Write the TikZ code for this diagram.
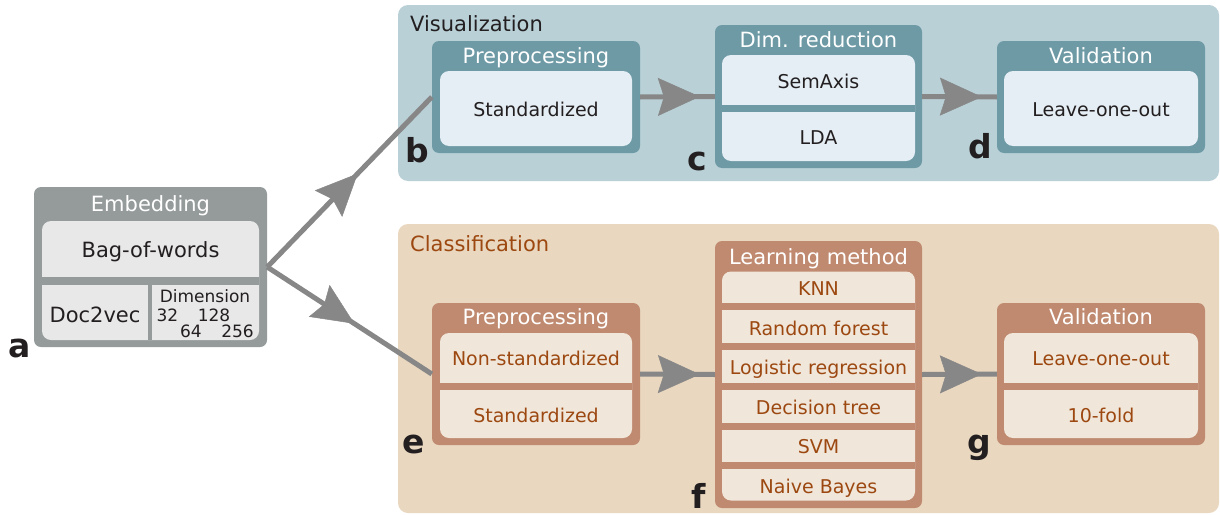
\documentclass[tikz,border=0pt]{standalone}
\usepackage{fontspec}
\setmainfont{DejaVu Sans}
\usetikzlibrary{arrows.meta, decorations.markings}

\definecolor{embgray}{RGB}{149,155,155}
\definecolor{emblight}{RGB}{232,232,232}
\definecolor{vispanel}{RGB}{185,208,215}
\definecolor{visouter}{RGB}{110,154,166}
\definecolor{visinner}{RGB}{229,238,244}
\definecolor{clspanel}{RGB}{233,215,191}
\definecolor{clsouter}{RGB}{192,138,112}
\definecolor{clsinner}{RGB}{240,230,218}
\definecolor{clsbrown}{RGB}{156,72,16}
\definecolor{darktext}{RGB}{35,31,32}
\definecolor{flowgray}{RGB}{135,135,135}

\tikzset{
  box/.style={rounded corners=7pt, inner sep=0pt},
  headtext/.style={inner sep=0pt, text=white, text height=15.3pt, text depth=0pt, font=\fontsize{21}{25}\selectfont},
  paneltitle/.style={anchor=west, inner sep=0pt, text height=15.3pt, text depth=0pt, font=\fontsize{21}{25}\selectfont},
  vistext/.style={inner sep=0pt, text=darktext, text height=13.9pt, text depth=0pt, font=\fontsize{19}{23}\selectfont},
  clstext/.style={vistext, text=clsbrown},
  embtext/.style={inner sep=0pt, text=darktext, text height=15.3pt, text depth=0pt, font=\fontsize{21}{25}\selectfont},
  dimtext/.style={inner sep=0pt, text=darktext, text height=12.4pt, text depth=0pt, font=\fontsize{17}{20}\selectfont},
  letter/.style={anchor=base, inner sep=0pt, text=darktext, font=\fontsize{33}{33}\selectfont\bfseries},
  vissep/.style={visouter, line width=7pt},
  clssep/.style={clsouter, line width=7pt},
  flow/.style={color=flowgray, line width=5pt, postaction={decorate},
    decoration={markings, mark=at position #1 with {\arrow{Stealth[length=42pt,width=38pt,inset=6pt,line width=0.5pt]}}}}
}

\begin{document}
\begin{tikzpicture}[x=1pt, y=-1pt]
\useasboundingbox (0,0) rectangle (1220,514);

\fill[vispanel, rounded corners=10pt] (398,5) rectangle (1219,181);
\fill[clspanel, rounded corners=10pt] (398,224) rectangle (1219,513);
\node[paneltitle, text=darktext] (vistitle) at (410,24) {Visualization};
\node[paneltitle, text=clsbrown] (clstitle) at (410,244) {Classification};

% embedding
\node[box, fill=embgray, minimum width=233pt, minimum height=160pt] (emb) at (150.5,267) {};
\node[headtext] (embtitle) at (150.5,204) {Embedding};
\fill[emblight, rounded corners=9pt] (42,221) rectangle (259,340);
\draw[embgray, line width=8pt] (42,281) -- (259,281);
\draw[embgray, line width=4pt] (150,281) -- (150,340);
\node[embtext] (bow) at (150.5,250) {Bag-of-words};
\node[embtext] (d2v) at (95,315) {Doc2vec};
\node[dimtext] (dimtitle) at (205,296.5) {Dimension};
\foreach \num/\px/\py in {32/167.5/315, 128/214/315, 64/191/331, 256/237.5/331}
  \node[dimtext] (dim\num) at (\px,\py) {\num};

% visualization
\node[box, fill=visouter, minimum width=208pt, minimum height=112pt] (b) at (536,97) {};
\node[headtext] (btitle) at (536,56) {Preprocessing};
\fill[visinner, rounded corners=9pt] (440,71) rectangle (632,146);
\node[vistext] (bstd) at (536,110) {Standardized};

\node[box, fill=visouter, minimum width=207pt, minimum height=143pt] (c) at (818.5,96.5) {};
\node[headtext] (ctitle) at (818.5,40) {Dim. reduction};
\fill[visinner, rounded corners=9pt] (722,55) rectangle (915,161);
\draw[vissep] (722,108.5) -- (915,108.5);
\node[vistext] (csem) at (818.5,82) {SemAxis};
\node[vistext] (clda) at (818.5,138) {LDA};

\node[box, fill=visouter, minimum width=208pt, minimum height=112pt] (d) at (1101,97) {};
\node[headtext] (dtitle) at (1101,56) {Validation};
\fill[visinner, rounded corners=9pt] (1004,71) rectangle (1198,146);
\node[vistext] (dloo) at (1101,110) {Leave-one-out};

% classification
\node[box, fill=clsouter, minimum width=208pt, minimum height=142pt] (e) at (536,374) {};
\node[headtext] (etitle) at (536,316.5) {Preprocessing};
\fill[clsinner, rounded corners=9pt] (440,333) rectangle (632,438);
\draw[clssep] (440,386) -- (632,386);
\node[clstext] (enon) at (536,359) {Non-standardized};
\node[clstext] (estd) at (536,416) {Standardized};

\node[box, fill=clsouter, minimum width=207pt, minimum height=267pt] (f) at (818.5,374.5) {};
\node[headtext] (ftitle) at (818.5,257) {Learning method};
\fill[clsinner, rounded corners=9pt] (722,271.5) rectangle (915,500.5);
\foreach \sy in {306.7, 346.3, 386.3, 426, 465.3}
  \draw[clssep] (722,\sy) -- (915,\sy);
\foreach \method [count=\i from 0] in {KNN, Random forest, Logistic regression, Decision tree, SVM, Naive Bayes}
  \node[clstext] (lm\i) at (818.5,{289+39.5*\i}) {\method};

\node[box, fill=clsouter, minimum width=208pt, minimum height=142pt] (g) at (1101,374) {};
\node[headtext] (gtitle) at (1101,316.5) {Validation};
\fill[clsinner, rounded corners=9pt] (1004,333) rectangle (1198,438);
\draw[clssep] (1004,386) -- (1198,386);
\node[clstext] (gloo) at (1101,359) {Leave-one-out};
\node[clstext] (gten) at (1101,416) {10-fold};

% connectors
\draw[flow=0.55] (emb.east) -- (b.west);
\draw[flow=0.53] (emb.east) -- (e.west);
\draw[flow=0.8] (b.east) -- (c.west);
\draw[flow=0.8] (c.east) -- (d.west);
\draw[flow=0.8] (e.east) -- (f.west);
\draw[flow=0.8] (f.east) -- (g.west);

\node[letter] (la) at (20,357) {a};
\node[letter] (lb) at (417.5,162) {b};
\node[letter] (lc) at (697,170) {c};
\node[letter] (ld) at (980,158) {d};
\node[letter] (le) at (414,453) {e};
\node[letter] (lf) at (698.5,508) {f};
\node[letter] (lg) at (979,453) {g};
\end{tikzpicture}
\end{document}
